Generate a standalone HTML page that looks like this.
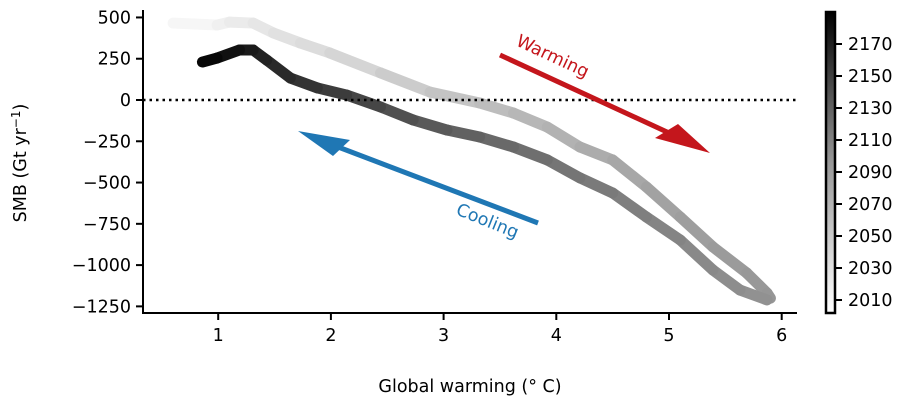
<!DOCTYPE html>
<html><head><meta charset="utf-8"><style>
body{margin:0;background:#fff}
svg{font-family:"DejaVu Sans","Liberation Sans",sans-serif;font-size:17.5px}
</style></head><body>
<svg id="chart" width="920" height="407" xmlns="http://www.w3.org/2000/svg">
<defs><linearGradient id="cb" x1="0" y1="1" x2="0" y2="0"><stop offset="0" stop-color="#fff"/><stop offset="0.5" stop-color="#979797"/><stop offset="1" stop-color="#000"/></linearGradient></defs>
<g id="plot"></g>
<g id="axes"></g>
</svg>
<script>
const warmTemp=[0.6,0.99,1.10,1.31,1.49,1.73,1.99,2.44,2.88,3.32,3.62,3.92,4.21,4.50,4.80,5.10,5.39,5.69,5.87,5.9];
const warmSMB=[466,454,472,466,406,345,285,164,48,-18,-79,-164,-285,-363,-527,-709,-890,-1048,-1169,-1200];
const warmYear=[2000,2008,2012,2018,2022,2027,2032,2040,2048,2056,2061,2066,2071,2076,2080,2084,2087,2090,2092,2093];
const coolTemp=[5.87,5.63,5.39,5.10,4.80,4.50,4.21,3.92,3.62,3.32,3.03,2.73,2.44,2.14,1.88,1.64,1.43,1.31,1.19,0.99,0.86];
const coolSMB=[-1211,-1151,-1030,-848,-709,-563,-472,-363,-285,-224,-182,-121,-42,30,73,133,242,303,303,254,230];
const coolYear=[2095,2098,2101,2105,2109,2113,2117,2121,2126,2131,2137,2143,2149,2156,2162,2167,2172,2176,2180,2184,2187];
const xTicks=[1,2,3,4,5,6];
const yTicks=[500,250,0,-250,-500,-750,-1000,-1250];
const cbTicks=[2010,2030,2050,2070,2090,2110,2130,2150,2170];
const NS="http://www.w3.org/2000/svg";
const X=v=>105.5+v*112.7, Y=v=>100-v*0.1651, CB=y=>300-(y-2010)*1.6;
const col=yr=>{const t=Math.min(1,Math.max(0,(yr-1995)/192));const g=Math.round(255*Math.pow(1-t,0.75));return "rgb("+g+","+g+","+g+")";};
function mk(p,t,a,txt){const e=document.createElementNS(NS,t);for(const k in a)e.setAttribute(k,a[k]);if(txt!==undefined)e.textContent=String(txt);p.appendChild(e);return e;}
const plot=document.getElementById('plot'),axes=document.getElementById('axes');
function series(T,S,Yr,name){for(let i=0;i<T.length-1;i++){const l=mk(plot,'line',{x1:X(T[i]),y1:Y(S[i]),x2:X(T[i+1]),y2:Y(S[i+1]),stroke:col((Yr[i]+Yr[i+1])/2),'stroke-width':11,'stroke-linecap':'round'});

}}
series(warmTemp,warmSMB,warmYear,'warming-path');
series(coolTemp,coolSMB,coolYear,'cooling-path');
const zl=mk(plot,'line',{x1:143,x2:797,y1:Y(0),y2:Y(0),stroke:'#000','stroke-width':2.5,'stroke-dasharray':'2.5 4'});


const wa=mk(plot,'line',{x1:500,y1:55,x2:680,y2:138,stroke:'#c4161c','stroke-width':5});


mk(plot,'polygon',{points:'710,153 655,138 678,124',fill:'#c4161c'});
const wl=mk(plot,'text',{x:0,y:0,fill:'#c4161c',transform:'translate(515,45) rotate(25)'},'Warming');


const ca=mk(plot,'line',{x1:538,y1:223,x2:325,y2:142,stroke:'#1f77b4','stroke-width':5});


mk(plot,'polygon',{points:'298,131 350,140 333,156',fill:'#1f77b4'});
const cl=mk(plot,'text',{x:0,y:0,fill:'#1f77b4',transform:'translate(455,214) rotate(22)'},'Cooling');


mk(axes,'line',{x1:143,y1:10,x2:143,y2:314,stroke:'#000','stroke-width':2});
mk(axes,'line',{x1:142,y1:313,x2:797,y2:313,stroke:'#000','stroke-width':2});
xTicks.forEach(v=>{mk(axes,'line',{x1:X(v),x2:X(v),y1:313,y2:320,stroke:'#000','stroke-width':2});
const t=mk(axes,'text',{x:X(v),y:341,'text-anchor':'middle'},v);

});
yTicks.forEach(v=>{mk(axes,'line',{x1:136,x2:143,y1:Y(v),y2:Y(v),stroke:'#000','stroke-width':2});
const t=mk(axes,'text',{x:131,y:Y(v)+6,'text-anchor':'end'},(v<0?'\u2212'+(-v):v));

});
const xt=mk(axes,'text',{x:470,y:392,'text-anchor':'middle'},'Global warming (° C)');


const yl=mk(axes,'text',{transform:'translate(26,163) rotate(-90)','text-anchor':'middle'},'SMB (Gt yr');


mk(yl,'tspan',{dy:-6,'font-size':12},'\u22121');mk(yl,'tspan',{dy:6},')');
const cbr=mk(axes,'rect',{x:826,y:12,width:9,height:301,fill:'url(#cb)',stroke:'#000','stroke-width':2.5});


cbTicks.forEach(v=>{mk(axes,'line',{x1:835,x2:842,y1:CB(v),y2:CB(v),stroke:'#000','stroke-width':2});
const t=mk(axes,'text',{x:848,y:CB(v)+6},v);

});
</script>
</body></html>
